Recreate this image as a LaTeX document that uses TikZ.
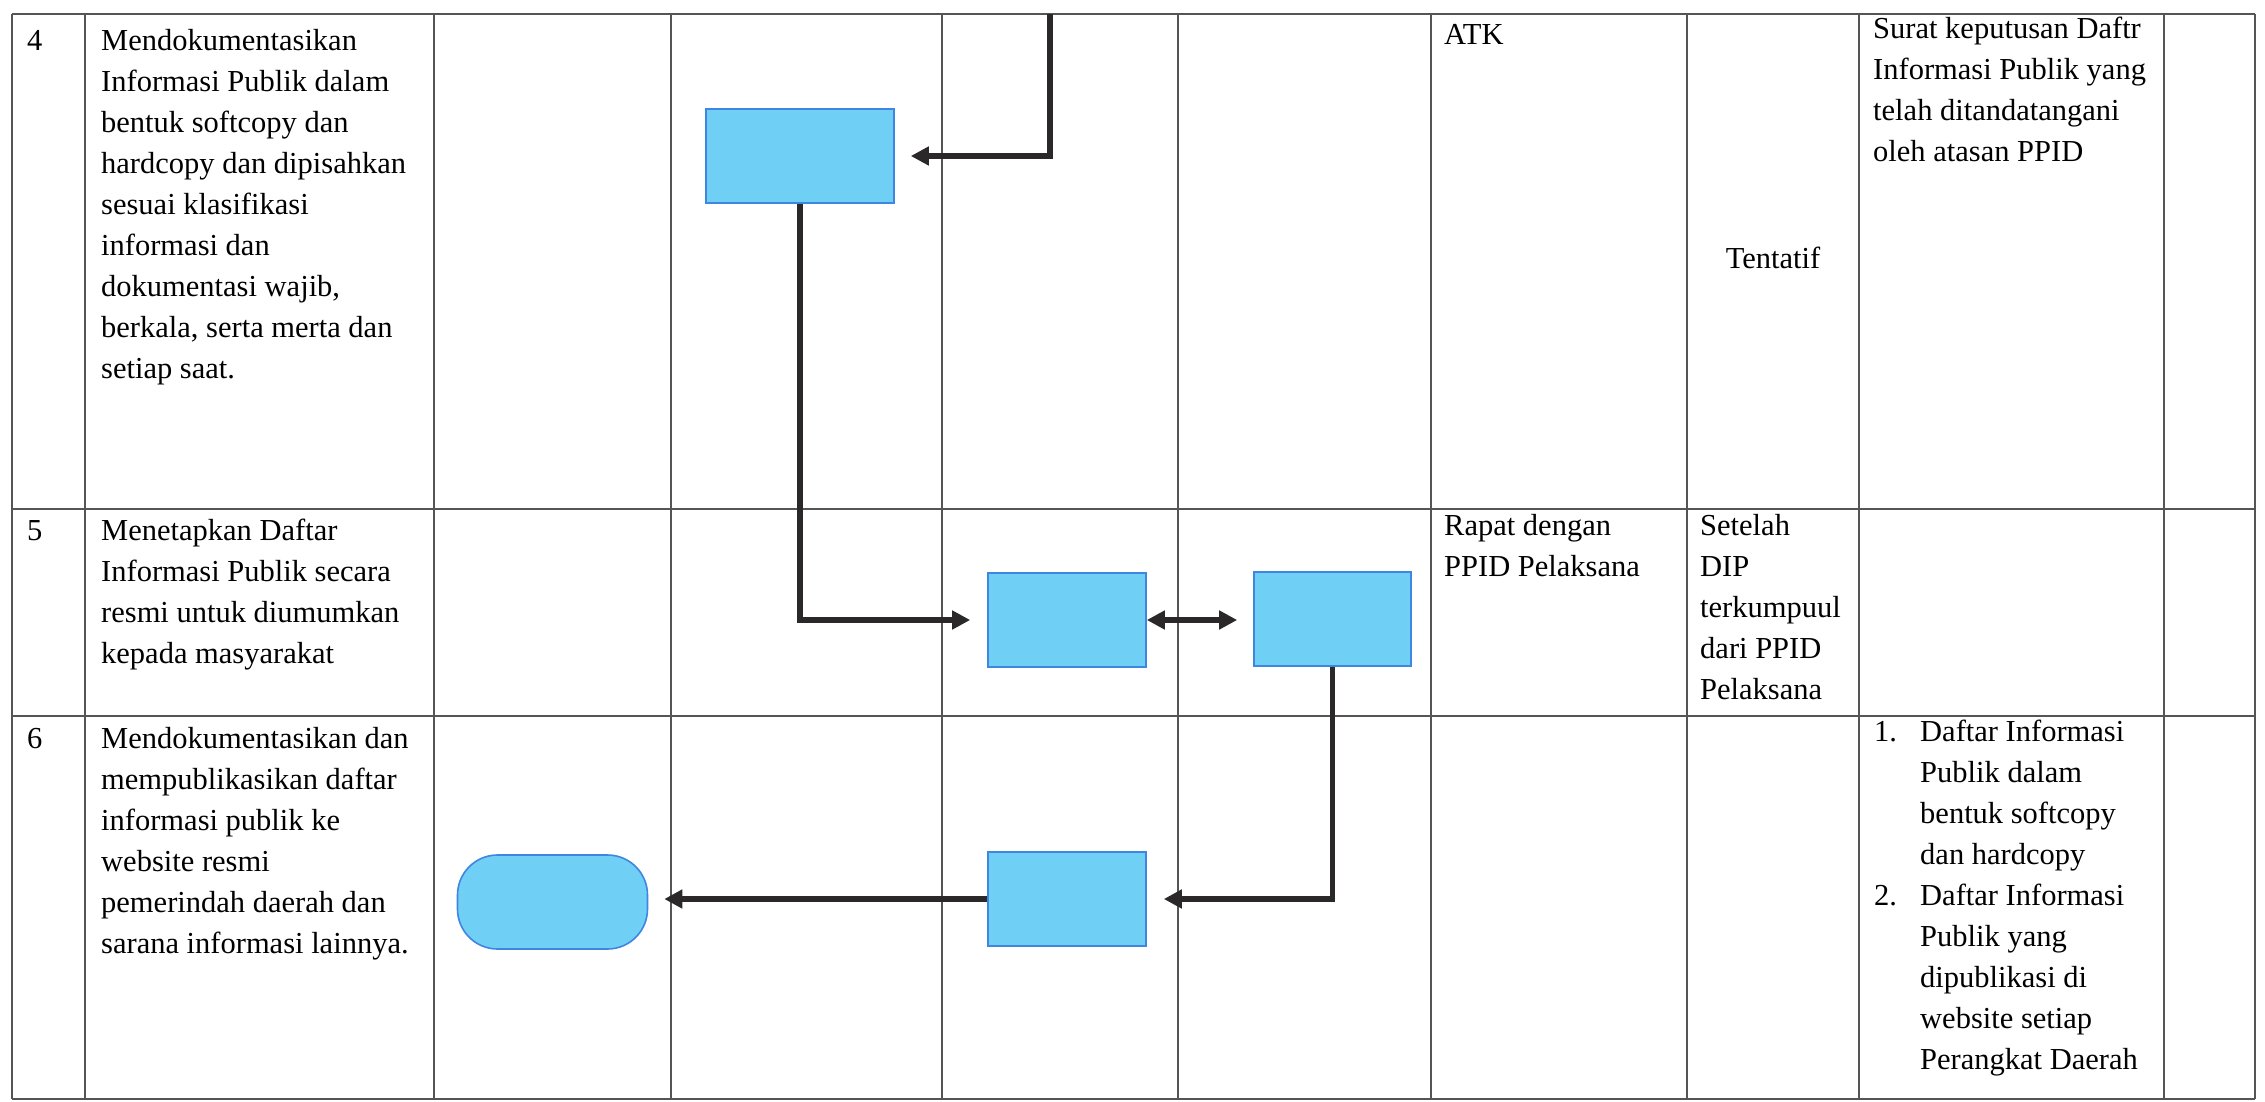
\documentclass[tikz,border=0pt]{standalone}
\usepackage{fontspec}
\setmainfont{Liberation Serif}
\usetikzlibrary{arrows.meta}
\definecolor{boxfill}{HTML}{6FCFF4}
\definecolor{boxdraw}{HTML}{3E86E0}
\definecolor{flowcol}{HTML}{2B2829}
\definecolor{gridcol}{HTML}{555555}
\tikzset{
  grid/.style={draw=gridcol, line width=1.6pt},
  procbox/.style={draw=boxdraw, fill=boxfill, line width=1.6pt, minimum width=#1, minimum height=94pt, inner sep=0pt},
  termbox/.style={draw=boxdraw, fill=boxfill, line width=1.6pt, rounded corners=40pt, minimum width=190pt, minimum height=94pt, inner sep=0pt},
  flow/.style={draw=flowcol, line width=5.5pt, -{Triangle[length=18pt,width=18pt]}},
  flowboth/.style={draw=flowcol, line width=5.5pt, {Triangle[length=18pt,width=18pt]}-{Triangle[length=18pt,width=18pt]}},
  cell/.style={anchor=north west, inner sep=0pt, align=left, font=\fontsize{30.5pt}{41pt}\selectfont},
  cellc/.style={anchor=center, inner sep=0pt, align=center, font=\fontsize{30.5pt}{41pt}\selectfont},
}
\begin{document}
\begin{tikzpicture}[x=1pt,y=-1pt]
\useasboundingbox (0,0) rectangle (2265,1102);
% table grid
\foreach \yy in {14,509,716,1099} \draw[grid] (12,\yy) -- (2255,\yy);
\foreach \xx in {12,85,434,671,942,1178,1431,1687,1859,2164,2255} \draw[grid] (\xx,14) -- (\xx,1099);
% row numbers
\node[cell] (n4) at (27,14+8) {\strut 4};
\node[cell] (n5) at (27,509+3) {\strut 5};
\node[cell] (n6) at (27,716+4) {\strut 6};
% activity texts
\node[cell] (t4) at (101,14+8) {\strut Mendokumentasikan\\Informasi Publik dalam\\bentuk softcopy dan\\hardcopy dan dipisahkan\\sesuai klasifikasi\\informasi dan\\dokumentasi wajib,\\berkala, serta merta dan\\setiap saat.};
\node[cell] (t5) at (101,509+3) {\strut Menetapkan Daftar\\Informasi Publik secara\\resmi untuk diumumkan\\kepada masyarakat};
\node[cell] (t6) at (101,716+4) {\strut Mendokumentasikan dan\\mempublikasikan daftar\\informasi publik ke\\website resmi\\pemerindah daerah dan\\sarana informasi lainnya.};
% requirement / time / output
\node[cell] (atk) at (1444,14+2) {\strut ATK};
\node[cellc] (tent) at (1773,258) {Tentatif};
\node[cell] (out4) at (1873,14-4) {\strut Surat keputusan Daftr\\Informasi Publik yang\\telah ditandatangani\\oleh atasan PPID};
\node[cell] (rapat) at (1444,509-2) {\strut Rapat dengan\\PPID Pelaksana};
\node[cell] (setelah) at (1700,509-2) {\strut Setelah\\DIP\\terkumpuul\\dari PPID\\Pelaksana};
\node[cell] (o1) at (1874,716-3) {\strut 1.};
\node[cell] (o1t) at (1920,716-3) {\strut Daftar Informasi\\Publik dalam\\bentuk softcopy\\dan hardcopy};
\node[cell] (o2) at (1874,716-3+164) {\strut 2.};
\node[cell] (o2t) at (1920,716-3+164) {\strut Daftar Informasi\\Publik yang\\dipublikasi di\\website setiap\\Perangkat Daerah};
% flow shapes
\node[procbox=188pt] (A) at (800,156) {};
\node[procbox=158pt] (B) at (1067,620) {};
\node[procbox=157pt] (C) at (1332.5,619) {};
\node[procbox=158pt] (D) at (1067,899) {};
\node[termbox] (E) at (552.5,902) {};
\coordinate (in) at (1050,14);
% connectors
\draw[flow] (in) |- ([xshift=16pt]A.east);
\draw[flow] (A.south) |- ([xshift=-17pt]B.west);
\draw[flowboth] (B.east) -- ([xshift=-16pt]B.east -| C.west);
\draw[flow] (C.south) |- ([xshift=17pt]D.east);
\draw[flow] (D.west) -- ([xshift=16pt]D.west -| E.east);
\end{tikzpicture}
\end{document}
